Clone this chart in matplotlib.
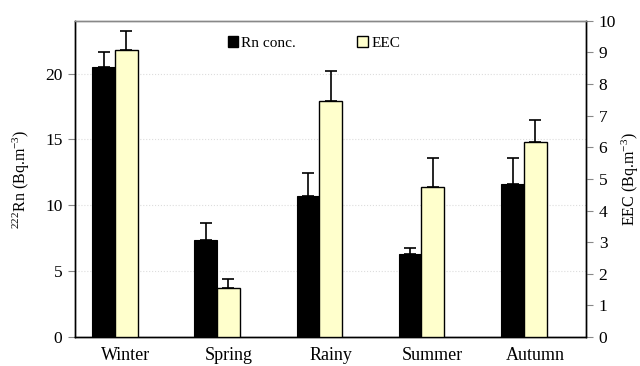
import numpy as np
import matplotlib
matplotlib.use("Agg")
import matplotlib.pyplot as plt
from matplotlib.patches import Patch

plt.rcParams['font.family'] = ['Liberation Serif', 'DejaVu Serif']
plt.rcParams['mathtext.fontset'] = 'custom'
plt.rcParams['mathtext.rm'] = 'Liberation Serif'
plt.rcParams['mathtext.it'] = 'Liberation Serif:italic'
plt.rcParams['mathtext.bf'] = 'Liberation Serif:bold'

seasons = ["Winter", "Spring", "Rainy", "Summer", "Autumn"]
rn_conc = [20.5, 7.4, 10.7, 6.3, 11.6]
rn_err = [1.15, 1.25, 1.75, 0.45, 2.0]
eec = [9.07, 1.56, 7.46, 4.75, 6.16]
eec_err = [0.6, 0.29, 0.96, 0.92, 0.7]

fig = plt.figure(figsize=(6.4, 3.66), dpi=100)
ax = fig.add_axes([0.117, 0.079, 0.799, 0.864])
ax2 = ax.twinx()

x = np.arange(len(seasons))
w = 0.225
xb = x - 0.22
xy = x + 0.0

ax.bar(xb, rn_conc, width=w, color='black', edgecolor='black', linewidth=0.8, zorder=3)
ax.errorbar(xb, rn_conc, yerr=[np.zeros(len(rn_err)), rn_err], fmt='none',
            ecolor='black', elinewidth=1.2, capsize=4, capthick=1.2, zorder=4)
ax2.bar(xy, eec, width=w, color='#FFFFCC', edgecolor='black', linewidth=1.0, zorder=3)
ax2.errorbar(xy, eec, yerr=[np.zeros(len(eec_err)), eec_err], fmt='none',
             ecolor='black', elinewidth=1.2, capsize=4, capthick=1.2, zorder=4)

ax.set_xlim(-0.5, len(seasons) - 0.5)
ax.set_ylim(0, 24)
ax2.set_ylim(0, 10)
ax.set_yticks([0, 5, 10, 15, 20])
ax2.set_yticks(range(0, 11))
ax.set_xticks(x)
ax.set_xticklabels(seasons, fontsize=13)
ax.tick_params(axis='x', length=0, pad=7)
ax.tick_params(axis='y', labelsize=12.5, direction='out', length=5, width=0.8, color='#888888', pad=4)
ax2.tick_params(axis='y', labelsize=12.5, direction='out', length=5, width=0.8, color='#888888', pad=4)

ax.yaxis.grid(True, color='#DDDDDD', linestyle=':', linewidth=0.8, zorder=0)
ax.set_axisbelow(True)

for sp in ['left', 'bottom', 'right']:
    ax.spines[sp].set_color('black')
    ax2.spines[sp].set_color('black')
ax.spines['top'].set_color('#888888')
ax2.spines['top'].set_color('#888888')
for a in (ax, ax2):
    for sp in a.spines.values():
        sp.set_linewidth(1.0)

ax.set_ylabel(r'$^{222}$Rn (Bq.m$^{-3}$)', fontsize=11.5)
ax.yaxis.set_label_coords(-0.083, 0.5)
ax2.set_ylabel(r'EEC (Bq.m$^{-3}$)', fontsize=11.5)
ax2.yaxis.set_label_coords(1.066, 0.5)

handles = [Patch(facecolor='black', edgecolor='black'),
           Patch(facecolor='#FFFFCC', edgecolor='black')]
ax2.legend(handles, ['Rn conc.', 'EEC'], loc='center left', bbox_to_anchor=(0.272, 0.93),
           ncol=2, frameon=False, fontsize=11, handlelength=0.7, handleheight=0.7,
           handletextpad=0.2, columnspacing=4.0)

fig.savefig('out.png', dpi=100)
